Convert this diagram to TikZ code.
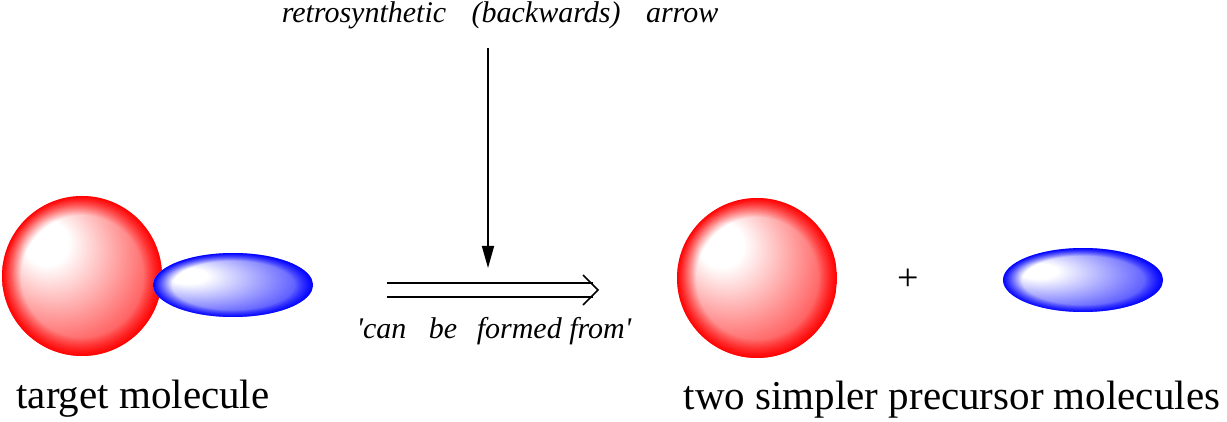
\documentclass[tikz,border=0pt]{standalone}
\usepackage{fontspec}
\setmainfont{Liberation Serif}
\usetikzlibrary{shapes.geometric,arrows.meta,fadings}
\pgfdeclareradialshading{rball}{\pgfpoint{-13bp}{12bp}}{color(0bp)=(white); color(7bp)=(white); color(40bp)=(red); color(50bp)=(red)}
\pgfdeclareradialshading{bball}{\pgfpoint{-16bp}{8bp}}{color(0bp)=(white); color(6bp)=(white); color(40bp)=(blue); color(50bp)=(blue)}
\pgfdeclareradialshading{edgeshade}{\pgfpointorigin}{color(0bp)=(pgftransparent!100); color(19bp)=(pgftransparent!100); color(25bp)=(pgftransparent!0); color(50bp)=(pgftransparent!0)}
\pgfdeclarefading{edgefade}{\pgfuseshading{edgeshade}}
\tikzset{
  redsphere/.style={circle, minimum size=160pt, inner sep=0pt, shading=rball,
    path picture={\fill[red, path fading=edgefade, fit fading=true] (path picture bounding box.south west) rectangle (path picture bounding box.north east);}},
  blueblob/.style={ellipse, minimum width=160pt, minimum height=64pt, inner sep=0pt, shading=bball,
    path picture={\fill[blue, path fading=edgefade, fit fading=true] (path picture bounding box.south west) rectangle (path picture bounding box.north east);}},
  lbl/.style={inner sep=0pt, anchor=base, font=\fontsize{30pt}{34pt}\selectfont\itshape},
  caption/.style={inner sep=0pt, anchor=base, font=\fontsize{41pt}{46pt}\selectfont},
  conn/.style={line width=1.6pt},
}
\begin{document}
\begin{tikzpicture}[x=1pt,y=-1pt]
\useasboundingbox (0,0) rectangle (1227,422);
\node[redsphere] (s1) at (82,276) {};
\node[blueblob] (e1) at (233,285) {};
\node[redsphere] (s2) at (757,278) {};
\node[blueblob] (e2) at (1083,280) {};
\node[inner sep=0pt, font=\fontsize{38pt}{42pt}\selectfont] (plus) at (908,280) {+};
\node[lbl] (top) at (500,23) {retrosynthetic\hspace{18pt} (backwards)\hspace{18pt} arrow};
\node[lbl] (cbf) at (494,338) {\textquotesingle can\hspace{15pt} be\hspace{12pt} formed from\textquotesingle};
\node[caption] (t1) at (143,408) {target molecule};
\node[caption] (t2) at (952,409) {two simpler precursor molecules};
\coordinate (vs) at (488,48);
\coordinate (ve) at (488,268);
\draw[conn,-{Triangle[length=22pt,width=12pt]}] (vs) -- (ve);
\coordinate (a1s) at (387,283);
\coordinate (a1e) at (593,283);
\coordinate (a2s) at (387,297);
\coordinate (a2e) at (593,297);
\coordinate (hu) at (583,275);
\coordinate (ht) at (598,290);
\coordinate (hd) at (583,305);
\draw[conn] (a1s) -- (a1e);
\draw[conn] (a2s) -- (a2e);
\draw[conn] (hu) -- (ht) -- (hd);
\end{tikzpicture}
\end{document}
